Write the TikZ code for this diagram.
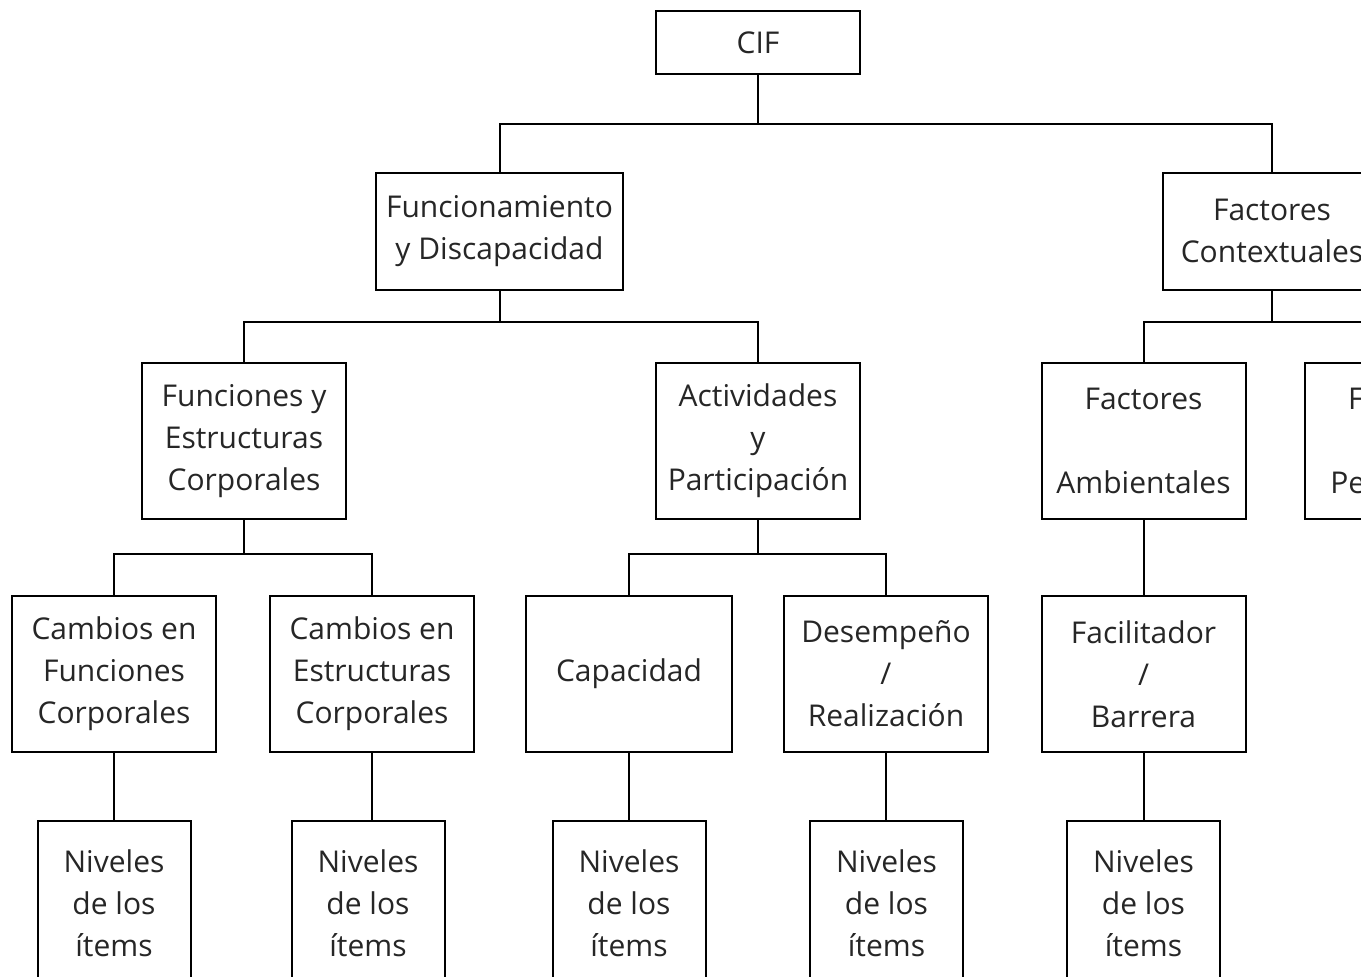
\documentclass[tikz,border=0pt]{standalone}
\usepackage{fontspec}
\setmainfont{Open Sans}
\begin{document}
\begin{tikzpicture}[x=0.5pt,y=-0.5pt,
  box/.style={draw=black, line width=1pt, rectangle, align=center, inner sep=0pt,
    font=\fontsize{15pt}{21pt}\selectfont, text=black!85},
  small/.style={box, minimum width=102pt, minimum height=31.5pt},
  mid/.style={box, minimum width=123.5pt, minimum height=58.5pt},
  big/.style={box, minimum width=102pt, minimum height=78pt},
  niv/.style={box, minimum width=76.5pt, minimum height=82pt},
  conn/.style={line width=1pt, draw=black}]
\useasboundingbox (0,0) rectangle (1361,976);
\clip (0,0) rectangle (1361,976);
\fill[white] (0,0) rectangle (1361,976);
% level 0
\node[small] (cif) at (758,42.5) {CIF};
% level 1
\node[mid] (fyd) at (499.5,231) {Funcionamiento\\y Discapacidad};
\node[mid, minimum width=109pt] (fc) at (1272,231) {Factores\\Contextuales};
% level 2
\node[big] (fec) at (244,441) {Funciones y\\Estructuras\\Corporales};
\node[big] (ayp) at (758,441) {Actividades\\y\\Participación};
\node[big] (fa) at (1143.5,441) {Factores\\[\baselineskip]Ambientales};
\node[big] (fp) at (1407,441) {Factores\\[\baselineskip]Personales};
% level 3
\node[big] (cfc) at (114,674) {Cambios en\\Funciones\\Corporales};
\node[big] (cec) at (372,674) {Cambios en\\Estructuras\\Corporales};
\node[big, minimum width=103pt] (cap) at (629,674) {Capacidad};
\node[big] (des) at (886,674) {Desempeño\\/\\Realización};
\node[big] (fb) at (1143.5,674) {Facilitador\\/\\Barrera};
% level 4
\node[niv] (n1) at (114,903) {Niveles\\de los\\ítems};
\node[niv] (n2) at (368,903) {Niveles\\de los\\ítems};
\node[niv] (n3) at (629,903) {Niveles\\de los\\ítems};
\node[niv] (n4) at (886.5,903) {Niveles\\de los\\ítems};
\node[niv] (n5) at (1143.5,903) {Niveles\\de los\\ítems};
% junctions
\coordinate (j0) at (758,124);
\coordinate (j1) at (499.5,322);
\coordinate (j2) at (1272,322);
\coordinate (j3) at (244,554);
\coordinate (j4) at (758,554);
% connectors
\draw[conn] (cif.south) -- (j0);
\draw[conn] (fyd.north) -- (fyd.north |- j0) -- (fc.north |- j0) -- (fc.north);
\draw[conn] (fyd.south) -- (j1);
\draw[conn] (fec.north) -- (fec.north |- j1) -- (ayp.north |- j1) -- (ayp.north);
\draw[conn] (fc.south) -- (j2);
\draw[conn] (fa.north) -- (fa.north |- j2) -- (fp.north |- j2) -- (fp.north);
\draw[conn] (fec.south) -- (j3);
\draw[conn] (cfc.north) -- (cfc.north |- j3) -- (cec.north |- j3) -- (cec.north);
\draw[conn] (ayp.south) -- (j4);
\draw[conn] (cap.north) -- (cap.north |- j4) -- (des.north |- j4) -- (des.north);
\draw[conn] (fa.south) -- (fb.north);
\draw[conn] (cfc.south) -- (n1.north);
\draw[conn] (cec.south) -- (cec.south |- n2.north);
\draw[conn] (cap.south) -- (n3.north);
\draw[conn] (des.south) -- (des.south |- n4.north);
\draw[conn] (fb.south) -- (n5.north);
\end{tikzpicture}
\end{document}
